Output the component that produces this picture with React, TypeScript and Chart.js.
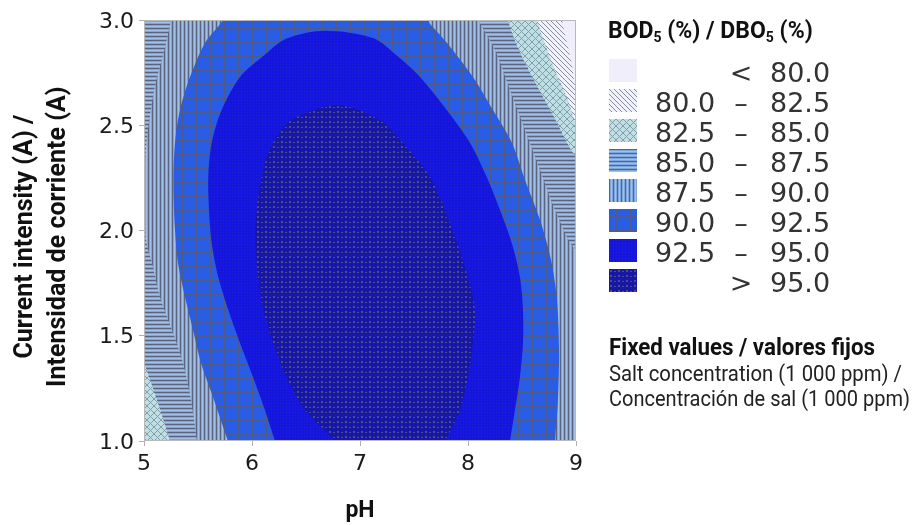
import { useEffect, useRef } from 'react';
import { Chart, registerables } from 'chart.js';

Chart.register(...registerables);

type P = [number, number]; // [pH, current (A)]

// ---- axis ticks ----
const xTickValues = [5, 6, 7, 8, 9];
const yTickValues = [1.0, 1.5, 2.0, 2.5, 3.0];

// ---- legend ----
const legendKeys = ['lt80', 'b80', 'b825', 'b85', 'b875', 'b90', 'b925', 'gt95'];
const legendFrom = ['', '80.0', '82.5', '85.0', '87.5', '90.0', '92.5', ''];
const legendSep = ['<', '–', '–', '–', '–', '–', '–', '>'];
const legendTo = ['80.0', '82.5', '85.0', '87.5', '90.0', '92.5', '95.0', '95.0'];

// ---- contour regions (value >= level) ----
const region95: P[] = [
  [7.28, 0.86], [6.89, 0.91], [6.77, 1.0], [6.49, 1.147], [6.32, 1.304], [6.197, 1.466],
  [6.105, 1.622], [6.058, 1.779], [6.03, 2.0], [6.09, 2.254], [6.194, 2.416], [6.368, 2.525],
  [6.784, 2.596], [7.185, 2.525], [7.398, 2.416], [7.648, 2.254], [7.833, 2.036], [8.0, 1.779],
  [8.065, 1.622], [8.046, 1.466], [8.0, 1.304], [7.926, 1.147], [7.787, 1.0], [7.667, 0.91],
];
const region925: P[] = [
  [7.32, 0.87], [6.278, 0.91], [6.213, 1.0], [6.12, 1.147], [6.009, 1.304], [5.889, 1.466],
  [5.781, 1.622], [5.688, 1.779], [5.627, 1.941], [5.602, 2.097], [5.595, 2.254], [5.627, 2.416],
  [5.719, 2.572], [5.889, 2.729], [6.093, 2.824], [6.321, 2.912], [6.676, 2.949], [7.12, 2.914],
  [7.343, 2.83], [7.556, 2.729], [7.803, 2.572], [8.019, 2.416], [8.173, 2.254], [8.296, 2.097],
  [8.405, 1.941], [8.481, 1.779], [8.509, 1.622], [8.509, 1.466], [8.481, 1.304], [8.435, 1.147],
  [8.389, 1.0], [8.361, 0.91],
];
const region90: P[] = [
  [6.66, 3.15], [5.815, 3.095], [5.731, 3.0], [5.565, 2.891], [5.426, 2.729], [5.333, 2.572],
  [5.287, 2.416], [5.273, 2.254], [5.278, 2.097], [5.287, 2.002], [5.315, 1.846], [5.38, 1.684],
  [5.454, 1.527], [5.528, 1.371], [5.639, 1.209], [5.778, 1.0], [5.852, 0.91], [7.3, 0.85],
  [8.806, 0.91], [8.806, 1.0], [8.833, 1.195], [8.843, 1.432], [8.824, 1.67], [8.769, 1.86],
  [8.667, 2.05], [8.528, 2.24], [8.407, 2.416], [8.231, 2.572], [8.046, 2.729], [7.806, 2.891],
  [7.62, 3.0], [7.509, 3.095],
];
const region875: P[] = [
  [6.65, 3.15], [5.269, 3.071], [5.25, 3.0], [5.194, 2.867], [5.111, 2.705], [5.056, 2.549],
  [5.019, 2.392], [5.005, 2.24], [5.009, 2.121], [5.019, 1.955], [5.074, 1.846], [5.148, 1.684],
  [5.259, 1.527], [5.361, 1.371], [5.435, 1.195], [5.491, 1.0], [5.519, 0.91], [9.222, 0.91],
  [9.222, 1.907], [9.0, 1.907], [8.806, 2.097], [8.667, 2.287], [8.528, 2.477], [8.389, 2.667],
  [8.25, 2.857], [8.093, 3.0], [8.019, 3.071],
];
const region85: P[] = [
  [4.593, 3.095], [8.343, 3.095], [8.37, 3.0], [8.463, 2.867], [8.62, 2.705], [8.787, 2.549],
  [8.944, 2.392], [9.037, 2.325], [9.222, 2.216], [9.222, 0.815], [5.352, 0.815], [5.241, 1.0],
  [5.12, 1.195], [5.0, 1.371], [4.87, 1.527], [4.593, 1.67],
];
const region825: P[] = [
  [4.593, 3.095], [8.611, 3.095], [8.639, 3.0], [8.787, 2.786], [8.926, 2.62], [9.009, 2.501],
  [9.222, 2.382], [9.222, 0.815], [4.593, 0.815],
];
const region80: P[] = [
  [4.593, 3.095], [8.843, 3.095], [8.87, 3.0], [8.963, 2.786], [9.009, 2.667], [9.222, 2.549],
  [9.222, 0.815], [4.593, 0.815],
];
const regionAll: P[] = [[4.5, 0.7], [9.5, 0.7], [9.5, 3.3], [4.5, 3.3]];

const regions: { key: string; pts: P[]; tension: number }[] = [
  { key: 'gt95', pts: region95, tension: 0.3 },
  { key: 'b925', pts: region925, tension: 0.3 },
  { key: 'b90', pts: region90, tension: 0.3 },
  { key: 'b875', pts: region875, tension: 0.3 },
  { key: 'b85', pts: region85, tension: 0.3 },
  { key: 'b825', pts: region825, tension: 0.3 },
  { key: 'b80', pts: region80, tension: 0.3 },
  { key: 'lt80', pts: regionAll, tension: 0 },
];

function makeTile(key: string): HTMLCanvasElement {
  const c = document.createElement('canvas');
  const size: Record<string, [number, number]> = {
    lt80: [4, 4], b80: [5, 5], b825: [7, 7], b85: [1, 4], b875: [4, 1],
    b90: [7, 7], b925: [3, 3], gt95: [8, 5],
  };
  const [w, h] = size[key];
  c.width = w;
  c.height = h;
  const g = c.getContext('2d')!;
  const rect = (x: number, y: number, rw: number, rh: number, col: string) => {
    g.fillStyle = col;
    g.fillRect(x, y, rw, rh);
  };
  switch (key) {
    case 'lt80':
      rect(0, 0, w, h, '#efeefa');
      break;
    case 'b80':
      rect(0, 0, w, h, '#f1f1f9');
      for (let i = 0; i < w; i++) rect(i, i, 1, 1, '#868ba3');
      break;
    case 'b825':
      rect(0, 0, w, h, '#bfdfe5');
      for (let i = 0; i < w; i++) {
        rect(i, i, 1, 1, '#7f9faa');
        rect(w - 1 - i, i, 1, 1, '#7f9faa');
      }
      break;
    case 'b85': {
      const cols = ['#5a6480', '#7fa6da', '#a2bfe6', '#7fa6da'];
      cols.forEach((col, i) => rect(0, i, 1, 1, col));
      break;
    }
    case 'b875': {
      const cols = ['#5a6480', '#7fa6da', '#a2bfe6', '#7fa6da'];
      cols.forEach((col, i) => rect(i, 0, 1, 1, col));
      break;
    }
    case 'b90':
      rect(0, 0, w, h, '#2a5de6');
      rect(0, 0, w, 1, '#4e5a88');
      rect(0, 0, 1, h, '#4e5a88');
      break;
    case 'b925':
      rect(0, 0, w, h, '#1515e0');
      rect(1, 1, 1, 1, '#2424c6');
      break;
    case 'gt95':
      rect(0, 0, w, h, '#1717a6');
      rect(1, 1, 2, 2, '#4c4c8e');
      rect(5, 2, 2, 1, '#4c4c8e');
      break;
  }
  return c;
}

const tickFont = { family: 'DejaVu Sans', size: 22 };
const titleFamily = 'Roboto, "Liberation Sans", sans-serif';

// target widths of the condensed note texts in the reference
const noteTexts = ['Fixed values / valores fijos', 'Salt concentration (1 000 ppm) /', 'Concentración de sal (1 000 ppm)'];
const noteWidths = [266, 293, 301];

export default function App() {
  const canvasRef = useRef<HTMLCanvasElement>(null);
  const swatchRefs = useRef<(HTMLCanvasElement | null)[]>([]);
  const noteRefs = useRef<(HTMLSpanElement | null)[]>([]);

  useEffect(() => {
    noteRefs.current.forEach((el, i) => {
      if (!el) return;
      const w = el.getBoundingClientRect().width;
      if (w > 0) el.style.transform = `scaleX(${noteWidths[i] / w})`;
    });

    const canvas = canvasRef.current!;
    const ctx = canvas.getContext('2d')!;
    const tiles: Record<string, HTMLCanvasElement> = {};
    legendKeys.forEach((k) => (tiles[k] = makeTile(k)));
    const fills: Record<string, CanvasPattern> = {};
    legendKeys.forEach((k) => (fills[k] = ctx.createPattern(tiles[k], 'repeat')!));

    swatchRefs.current.forEach((sc, i) => {
      if (!sc) return;
      const g = sc.getContext('2d')!;
      g.fillStyle = g.createPattern(tiles[legendKeys[i]], 'repeat')!;
      g.fillRect(0, 0, sc.width, sc.height);
    });

    const frame = {
      id: 'frame',
      afterDraw(chart: any) {
        const { left, top, right, bottom } = chart.chartArea;
        const c = chart.ctx;
        c.save();
        c.strokeStyle = '#b9b9b9';
        c.lineWidth = 1;
        c.strokeRect(left + 0.5, top + 0.5, right - left - 1, bottom - top - 1);
        c.restore();
      },
    };

    const chart = new Chart(canvas, {
      type: 'scatter',
      data: {
        datasets: regions.map((r) => ({
          label: r.key,
          data: [...r.pts, r.pts[0]].map(([x, y]) => ({ x, y })),
          showLine: true,
          fill: 'shape',
          backgroundColor: fills[r.key],
          borderColor: 'rgba(0,0,0,0)',
          borderWidth: 0,
          pointRadius: 0,
          pointHoverRadius: 0,
          tension: r.tension,
        })) as any,
      },
      options: {
        animation: false,
        responsive: false,
        maintainAspectRatio: false,
        events: [],
        layout: { padding: { left: 0, top: 20, right: 340, bottom: 0 } },
        elements: { line: { capBezierPoints: false } as any, point: { radius: 0 } },
        plugins: { legend: { display: false }, tooltip: { enabled: false } },
        scales: {
          x: {
            type: 'linear',
            min: 5,
            max: 9,
            afterBuildTicks: (s: any) => {
              s.ticks = xTickValues.map((v) => ({ value: v }));
            },
            afterFit: (s: any) => {
              s.height = 84;
            },
            ticks: { font: tickFont, color: '#1a1a1a', padding: 5, callback: (v: any) => String(v) },
            grid: { drawOnChartArea: false, tickLength: 5, color: '#b0b0b0' },
            border: { display: false },
            title: {
              display: true,
              text: 'pH',
              color: '#111',
              font: { family: titleFamily, size: 23, weight: 'bold', lineHeight: 1.0 },
              padding: { top: 0, bottom: 2.5 },
            },
          },
          y: {
            type: 'linear',
            min: 1,
            max: 3,
            afterBuildTicks: (s: any) => {
              s.ticks = yTickValues.map((v) => ({ value: v }));
            },
            afterFit: (s: any) => {
              s.width = 144;
            },
            ticks: {
              font: tickFont,
              color: '#1a1a1a',
              padding: 5,
              labelOffset: 2,
              callback: (v: any) => Number(v).toFixed(1),
            },
            grid: { drawOnChartArea: false, tickLength: 5, color: '#b0b0b0' },
            border: { display: false },
            title: {
              display: true,
              text: ['Current intensity (A) /\u00a0\u00a0', 'Intensidad de corriente (A)\u00a0\u00a0'],
              color: '#111',
              font: { family: titleFamily, size: 25, weight: 'bold', lineHeight: 1.32 },
              padding: { top: 9, bottom: 0 },
            },
          },
        },
      },
      plugins: [frame],
    });
    return () => chart.destroy();
  }, []);

  const cond = titleFamily;
  const noteStyle = (i: number): any => ({
    position: 'absolute',
    left: 609,
    top: [336, 362.5, 387.5][i],
    fontFamily: cond,
    fontWeight: i === 0 ? 'bold' : 'normal',
    fontSize: i === 0 ? 23 : 22,
    lineHeight: i === 0 ? '23px' : '22px',
    color: i === 0 ? '#111' : '#222',
    whiteSpace: 'nowrap',
    display: 'inline-block',
    transformOrigin: '0 0',
  });
  return (
    <div style={{ position: 'fixed', left: 0, top: 0, width: 916, height: 525, background: '#fff', overflow: 'hidden' }}>
      <canvas ref={canvasRef} width={916} height={525} style={{ position: 'absolute', left: 0, top: 0, display: 'block' }} />
      <div
        style={{
          position: 'absolute', left: 608, top: 19, fontFamily: cond, fontWeight: 'bold', fontSize: 23,
          lineHeight: '23px', color: '#111', whiteSpace: 'nowrap',
        }}
      >
        BOD<span style={{ fontSize: 14, position: 'relative', top: 4 }}>5</span> (%) / DBO
        <span style={{ fontSize: 14, position: 'relative', top: 4 }}>5</span> (%)
      </div>
      {legendKeys.map((k, i) => (
        <div key={k}>
          <canvas
            ref={(el) => {
              swatchRefs.current[i] = el;
            }}
            width={28}
            height={23}
            style={{ position: 'absolute', left: 609, top: 59 + 30 * i, display: 'block' }}
          />
          <div style={{ position: 'absolute', left: 655, top: 59 + 30 * i, font: '27px "DejaVu Sans"', lineHeight: '27px', color: '#333', whiteSpace: 'nowrap' }}>
            {legendFrom[i]}
          </div>
          <div style={{ position: 'absolute', left: 721, width: 40, textAlign: 'center', top: 59 + 30 * i, font: '27px "DejaVu Sans"', lineHeight: '27px', color: '#333' }}>
            {legendSep[i]}
          </div>
          <div style={{ position: 'absolute', left: 770, top: 59 + 30 * i, font: '27px "DejaVu Sans"', lineHeight: '27px', color: '#333', whiteSpace: 'nowrap' }}>
            {legendTo[i]}
          </div>
        </div>
      ))}
      {noteTexts.map((t, i) => (
        <span
          key={t}
          ref={(el) => {
            noteRefs.current[i] = el;
          }}
          style={noteStyle(i)}
        >
          {t}
        </span>
      ))}
    </div>
  );
}
